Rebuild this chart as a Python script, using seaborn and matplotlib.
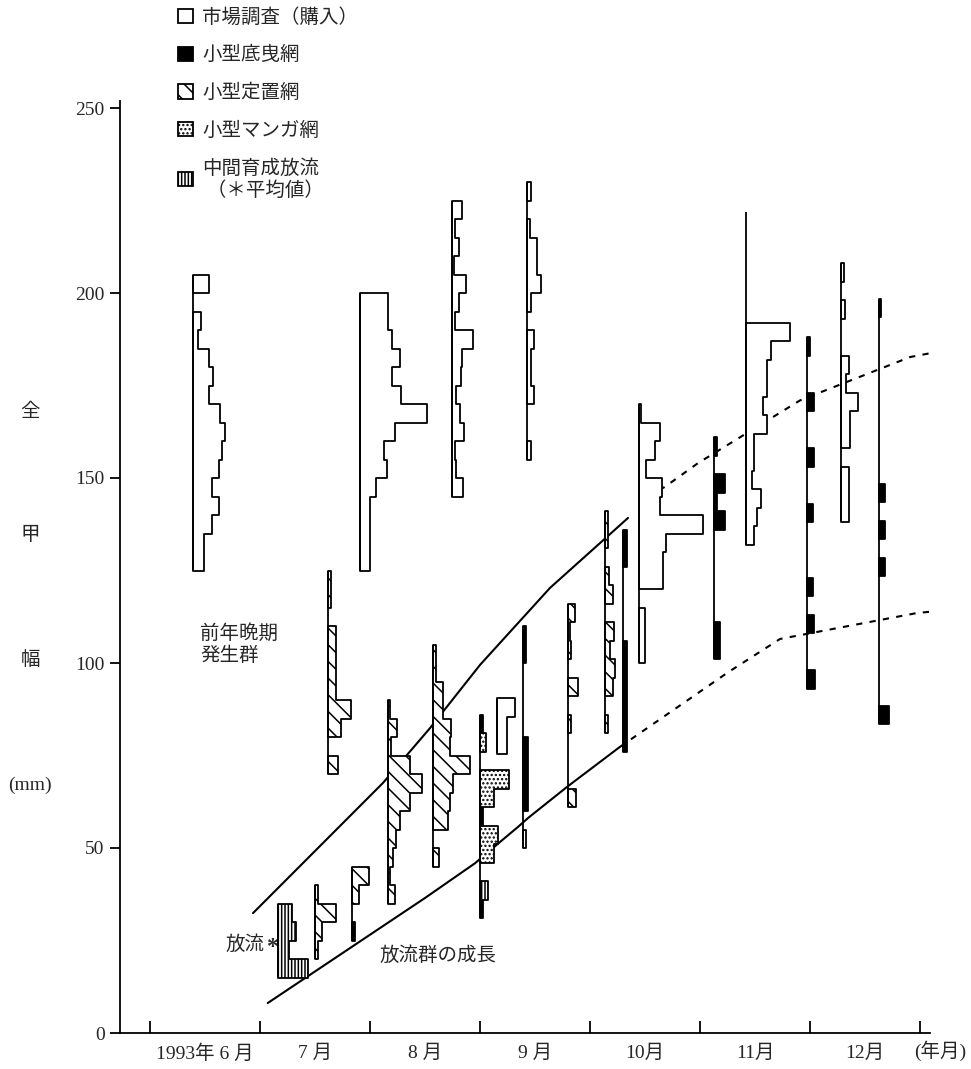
import numpy as np
import pandas as pd
import matplotlib
matplotlib.use("Agg")
import matplotlib.pyplot as plt
from matplotlib.patches import Patch
import seaborn as sns

# x positions are in months counted from 1 June 1993; widths are frequencies
BIN = 5          # mm per size class
SCALE = 0.05     # months of width per frequency unit

# 市場調査（購入）
m1_x, m1_start = 0.39, 125
m1_freq = [2, 2, 3.5, 4.7, 3.5, 4.7, 5.3, 5.8, 4.9, 3, 3.6, 2.9, 0.9, 1.5, 0, 2.9]
m2_x, m2_start = 1.909, 125
m2_freq = [1.8, 1.8, 1.8, 1.8, 2.9, 4.9, 4.4, 6.4, 12.2, 7.4, 5.9, 7.3, 5.9, 5.1, 5.1]
m3_x, m3_start = 2.745, 145
m3_freq = [2, 0.8, 0.6, 2.2, 1.5, 0.8, 1.6, 1.8, 3.9, 0.6, 1.2, 2.6, 0.4, 1.2, 0.6, 1.8]
ms_x, ms_start = 3.155, 75.5
ms_freq = [1.8, 1.8, 3.3]
m4_x, m4_start = 3.427, 155
m4_freq = [0.7, 0, 0, 1.3, 0.8, 0.8, 1.2, 0, 0.8, 2.6, 1.8, 1.8, 0.5, 0, 0.7]
m5_x, m5_start = 4.445, 100
m5_freq = [1.1, 1.1, 1.1, 0, 4.4, 4.4, 4.9, 11.6, 3.8, 4.2, 1.3, 2.9, 3.9, 0.4]
m6_x, m6_start = 5.418, 132
m6_freq = [1.5, 2, 2.8, 1, 1.5, 1.5, 3.8, 3, 3.8, 3.8, 4.5, 8, 0, 0, 0, 0, 0, 0]
m7_x, m7_start = 6.282, 138
m7_freq = [1.5, 1.5, 1.5, 0, 1.6, 1.6, 3, 0.8, 1.5, 0, 0, 0.7, 0, 0.5]

# 小型底曳網
b1_x, b1_start = 3.39, 50
b1_freq = [0.5, 0, 0.85, 0.85, 0.85, 0.85, 0, 0, 0, 0, 0.6, 0.6]
b1_gear = "M-BBBB----BB"
b2_x, b2_start = 4.3, 76
b2_freq = [0.8, 0.8, 0.8, 0.8, 0.8, 0.8, 0, 0, 0, 0, 0.8, 0.8]
b3_x, b3_start = 5.127, 101
b3_freq = [1, 1, 0, 0, 0, 0, 0, 2, 0.5, 1.9, 0, 0.5]
b4_x, b4_start = 5.973, 93
b4_freq = [1.5, 0, 0, 1.2, 0, 1, 0, 0, 0, 1, 0, 0, 1.2, 0, 0, 1.2, 0, 0, 0.5]
b5_x, b5_start = 6.627, 83.5
b5_freq = [1.8, 0, 0, 0, 0, 0, 0, 0, 1, 0, 1, 0, 1, 0, 0, 0, 0, 0, 0, 0, 0, 0, 0.4]

# 小型定置網
h1_x, h1_start = 1.5, 20
h1_freq = [0.6, 1.2, 3.8, 0.5]
h2_x, h2_start = 1.618, 70
h2_freq = [1.8, 0, 2.4, 4.2, 1.4, 1.4, 1.4, 1.4, 0, 0.6, 0.6]
h3_x, h3_start = 1.836, 25
h3_freq = [0.6, 0, 1.2, 3]
h3_gear = "B-HH"
h4_x, h4_start = 2.164, 35
h4_freq = [1.2, 0.3, 0.9, 1.5, 2.1, 3.9, 6.1, 3.9, 0.6, 1.7, 0.3]
h5_x, h5_start = 2.573, 45
h5_freq = [1.1, 0, 2.7, 3.1, 3.6, 6.8, 3.1, 3.3, 1.8, 1.8, 0.5, 0.5]
h6_x, h6_start = 3.8, 61
h6_freq = [1.5, 0, 0, 0, 0.5, 0, 1.8, 0, 0.5, 0.3, 1.2]
h7_x, h7_start = 4.136, 81
h7_freq = [0.5, 0, 1.5, 1.8, 0.9, 1.6, 0, 1.5, 0.8, 0, 0.5, 0.5]

# 小型マンガ網 (mixed with other gears on the same date)
g1_x, g1_start = 3.0, 31
g1_freq = [0.6, 1.4, 0, 2.6, 3.3, 0.6, 2.5, 5.2, 0, 1, 0.6]
g1_gear = "BR-GGBGG-GB"

# 中間育成放流
r1_x, r1_start = 1.164, 15
r1_freq = [5.5, 2, 3.3, 2.6]

# growth curves of the released group (upper / lower bound)
up_x = [0.936, 2.118, 2.545, 3.0, 3.636, 4.09, 4.345]
up_y = [32.4, 67.6, 82.4, 99.5, 120.3, 132.4, 139.2]
up_dash_x = [4.52, 4.68, 4.98, 5.91, 6.91, 7.14]
up_dash_y = [145.0, 147.6, 154.0, 171.0, 182.7, 184.0]
lo_x = [1.07, 2.5, 2.955, 3.18, 3.345, 3.436, 3.79, 4.27]
lo_y = [8.1, 36.5, 45.9, 51.6, 55.7, 58.1, 66.5, 77.3]
lo_dash_x = [4.27, 5.255, 5.727, 6.97, 7.14]
lo_dash_y = [77.3, 97.5, 106.5, 113.5, 114.0]

month_labels = ["1993年 6 月", "7 月", "8 月", "9 月", "10月", "11月", "12月"]
legend_labels = ["市場調査（購入）", "小型底曳網", "小型定置網", "小型マンガ網",
                 "中間育成放流\n （＊平均値）"]

styles = {
    "M": dict(facecolor="white", hatch=None),
    "B": dict(facecolor="black", hatch=None),
    "H": dict(facecolor="white", hatch="\\\\"),
    "G": dict(facecolor="white", hatch="...."),
    "R": dict(facecolor="white", hatch="|||||"),
}

hists = [
    (m1_x, m1_start, m1_freq, None), (m2_x, m2_start, m2_freq, None),
    (m3_x, m3_start, m3_freq, None), (m4_x, m4_start, m4_freq, None),
    (m5_x, m5_start, m5_freq, None), (m6_x, m6_start, m6_freq, None),
    (m7_x, m7_start, m7_freq, None), (ms_x, ms_start, ms_freq, None),
    (b1_x, b1_start, b1_freq, b1_gear), (b2_x, b2_start, b2_freq, "B"),
    (b3_x, b3_start, b3_freq, "B"), (b4_x, b4_start, b4_freq, "B"),
    (b5_x, b5_start, b5_freq, "B"),
    (h1_x, h1_start, h1_freq, "H"), (h2_x, h2_start, h2_freq, "H"),
    (h3_x, h3_start, h3_freq, h3_gear), (h4_x, h4_start, h4_freq, "H"),
    (h5_x, h5_start, h5_freq, "H"), (h6_x, h6_start, h6_freq, "H"),
    (h7_x, h7_start, h7_freq, "H"),
    (g1_x, g1_start, g1_freq, g1_gear), (r1_x, r1_start, r1_freq, "R"),
]

sns.set_theme(style="ticks")
plt.rcParams["font.family"] = ["Liberation Serif", "Noto Sans CJK JP"]
plt.rcParams["hatch.linewidth"] = 1.1

fig = plt.figure(figsize=(9.71, 10.69), dpi=100)
ax = fig.add_axes([120 / 971, 36 / 1069, 810 / 971, 932.4 / 1069])
ax.set_xlim(-0.273, 7.09)
ax.set_ylim(0, 252)


def draw_hist(ax, x0, start, freq, gear):
    freq = np.asarray(freq, dtype=float)
    n = len(freq)
    if gear is None:
        gear = "M"
    if len(gear) == 1:
        gear = gear * n
    gear = ["-" if f == 0 else g for f, g in zip(freq, gear)]
    # baseline
    ax.plot([x0, x0], [start, start + BIN * n], color="black", lw=1.3,
            zorder=5, solid_capstyle="butt")
    i = 0
    while i < n:
        j = i
        while j + 1 < n and gear[j + 1] == gear[i]:
            j += 1
        if gear[i] != "-":
            w = freq[i:j + 1]
            ys = start + BIN * np.arange(i, j + 2)
            xs = x0 + SCALE * np.append(w, w[-1])
            st = styles[gear[i]]
            ax.fill_betweenx(ys, x0, xs, step="post", facecolor=st["facecolor"],
                             hatch=st["hatch"], edgecolor="black", linewidth=1.3,
                             zorder=4)
        i = j + 1


for h in hists:
    draw_hist(ax, *h)

# growth curves
curves = pd.concat([
    pd.DataFrame({"x": up_x, "y": up_y, "seg": "up"}),
    pd.DataFrame({"x": lo_x, "y": lo_y, "seg": "lo"}),
])
for seg, d in curves.groupby("seg"):
    sns.lineplot(data=d, x="x", y="y", ax=ax, color="black", lw=1.5,
                 estimator=None, sort=False, zorder=2)
for xs, ys in [(up_dash_x, up_dash_y), (lo_dash_x, lo_dash_y)]:
    sns.lineplot(x=xs, y=ys, ax=ax, color="black", lw=1.5, estimator=None,
                 sort=False, linestyle=(0, (3, 3.5)), zorder=2)

# axes styling
sns.despine(ax=ax)
for s in ["left", "bottom"]:
    ax.spines[s].set_linewidth(1.3)
    ax.spines[s].set_color("black")
ax.set_xlabel("")
ax.set_ylabel("")
ax.set_yticks([0, 50, 100, 150, 200, 250])
ax.set_yticklabels(["0", "50", "100", "150", "200", "250"], fontsize=14)
ax.tick_params(axis="y", direction="out", length=7, width=1.3, color="black", pad=4)
ax.set_xticks(range(8))
ax.set_xticklabels([])
ax.tick_params(axis="x", which="major", direction="in", length=9, width=1.3, color="black")
ax.set_xticks(np.arange(7) + 0.5, minor=True)
ax.set_xticklabels(month_labels, minor=True, fontsize=14)
ax.tick_params(axis="x", which="minor", length=0, pad=8)
fig.text(966 / 971, 1 - 1051 / 1069, "(年月)", fontsize=14, ha="right", va="center")

# y label stacked in the left margin
for txt, py in [("全", 412), ("甲", 535), ("幅", 660), ("(mm)", 785)]:
    fig.text(30 / 971, 1 - py / 1069, txt, fontsize=14, ha="center", va="center")

ax.text(0.455, 105, "前年晩期\n発生群", fontsize=14, ha="left", va="center",
        linespacing=1.3)
ax.text(1.04, 24, "放流", fontsize=14, ha="right", va="center")
ax.text(1.16, 23, "*", fontsize=17, fontweight="bold", ha="right", va="center")
ax.text(2.09, 21, "放流群の成長", fontsize=14, ha="left", va="center")

# legend
handles = [Patch(facecolor=styles[k]["facecolor"], hatch=styles[k]["hatch"],
                 edgecolor="black", linewidth=1.3) for k in "MBHGR"]
ax.legend(handles, legend_labels, loc="upper left",
          bbox_to_anchor=(178 / 971, 1 - 8 / 1069), bbox_transform=fig.transFigure,
          frameon=False, fontsize=14, handlelength=0.75, handleheight=0.75,
          handletextpad=0.5, labelspacing=1.0, borderpad=0, borderaxespad=0)

fig.savefig("out.png", dpi=100, facecolor="white")
